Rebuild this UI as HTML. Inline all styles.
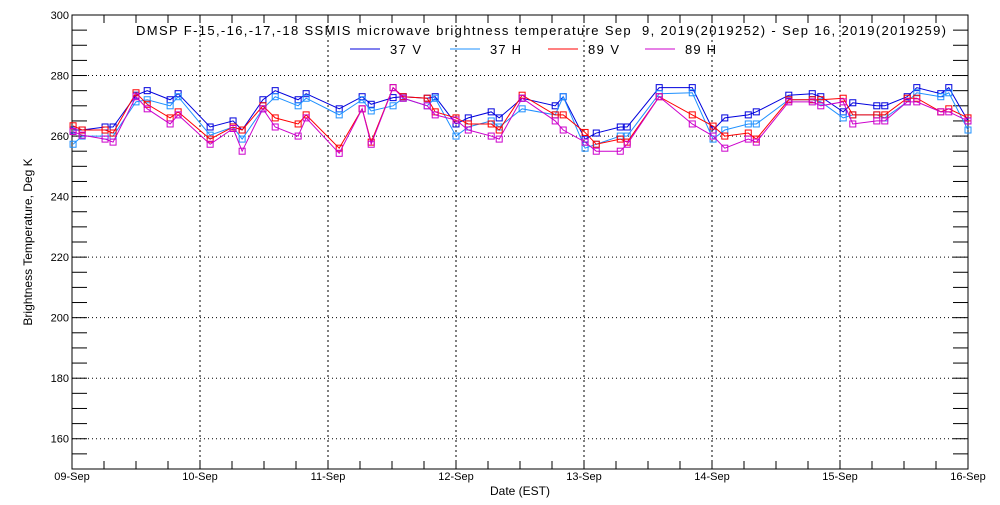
<!DOCTYPE html>
<html><head><meta charset="utf-8"><style>
body{margin:0;background:#fff;}
svg text{font-family:"Liberation Sans",sans-serif;font-size:11px;fill:#000;}
</style></head><body>
<svg id="c" width="1000" height="500"></svg>
<script>
const hours=[0.2,1.9,6.2,7.7,12,14.1,18.4,19.9,25.9,30.2,31.9,35.8,38.1,42.4,43.9,50.1,54.4,56.1,60.2,62.1,66.6,68.1,72,74.3,78.6,80.1,84.4,90.6,92.1,96.2,98.3,102.8,104.1,110.1,116.3,120.2,122.4,126.8,128.3,134.4,138.8,140.4,144.6,146.4,150.9,152.4,156.6,158.4,162.9,164.4,168];
const v37=[262,262,263,263,273.5,275,272,274,263,265,262,272,275,272,274,269,273,270.5,272.7,273,272.5,273,264,266,268,266,272.5,270,273,259,261,263,263,276,276,262,266,267,268,273.5,274,273,268,271,270,270,273,276,274,276,265];
const v89=[263.4,262,262,261,274.3,270.5,266,268,259,263,262,270,266,264,267,256,269,258,276,273,272.5,268,266,264,264,262,273.5,267,267,261.2,257.3,259,258,273,267,263.3,260,261,259,272,272,272,272.5,267,267,267,272.5,272.5,268,269,266];
const h37=[257.3,260,260,260,271.3,272,270,273,260.3,263,259,269,273,270,272.5,267,272,268.3,270,272.5,270,272.5,260,263,265,263,269,267,273,256,257.3,260,260,274,274.3,259,262,264,264,272,272,271.3,266,267,267,266,271.3,274.3,273,274.3,262];
const h89=[261.5,260.3,259,258,273,269,264,267,257.3,262.5,255,269,263,260,266,254.3,269,257.3,276,272.5,270,267,265.3,262,260,259,272.5,265,262,258,255,255,257.3,273,264,260,256,259,258,271.3,271.3,270,271.3,264,265,265,271.3,271.3,268,268,265];
const dayLabels=["09-Sep","10-Sep","11-Sep","12-Sep","13-Sep","14-Sep","15-Sep","16-Sep"];
const yTicks=[160,180,200,220,240,260,280,300];
const L=72,R=968,T=15,B=469,yMin=150,yMax=300;
const X=h=>L+(R-L)*h/168, Y=v=>B-(B-T)*(v-yMin)/(yMax-yMin);
const s=document.getElementById('c');const NS="http://www.w3.org/2000/svg";
function mk(t,a,txt){const e=document.createElementNS(NS,t);for(const k in a)e.setAttribute(k,a[k]);if(txt!=null)e.textContent=txt;s.appendChild(e);return e;}
let e;
yTicks.forEach(v=>{if(v<300){e=mk('line',{x1:L,x2:R,y1:Y(v),y2:Y(v),stroke:'#000','stroke-dasharray':'1,3'});

}
e=mk('text',{x:L-3,y:Y(v)+4,'text-anchor':'end'},v);

});
for(let v=155;v<300;v+=5){mk('line',{x1:L,x2:L+15,y1:Y(v),y2:Y(v),stroke:'#000'});mk('line',{x1:R,x2:R-15,y1:Y(v),y2:Y(v),stroke:'#000'});}
dayLabels.forEach((d,i)=>{const x=X(i*24);
if(i>0&&i<7){e=mk('line',{x1:x,x2:x,y1:T,y2:B,stroke:'#000','stroke-dasharray':'2,3'});

}
e=mk('text',{x:x,y:B+11,'text-anchor':'middle'},d);

});
for(let h=6;h<168;h+=6){const x=X(h);mk('line',{x1:x,x2:x,y1:B,y2:B-8,stroke:'#000'});mk('line',{x1:x,x2:x,y1:T,y2:T+8,stroke:'#000'});}
e=mk('rect',{x:L,y:T,width:R-L,height:B-T,fill:'none',stroke:'#000'});


const series=[[v37,'#0000dd','series-37v'],[h37,'#1e90ff','series-37h'],[v89,'#ff0000','series-89v'],[h89,'#cc00cc','series-89h']];
series.forEach(([vals,col,nm])=>{
e=mk('polyline',{points:vals.map((v,i)=>X(hours[i])+','+Y(v)).join(' '),fill:'none',stroke:col,'stroke-width':1});


vals.forEach((v,i)=>{e=mk('rect',{x:X(hours[i])-3,y:Y(v)-3,width:6,height:6,fill:'none',stroke:col,'stroke-width':1});

});});
e=mk('text',{x:136,y:35,textLength:810,lengthAdjust:'spacing'},'DMSP F-15,-16,-17,-18 SSMIS microwave brightness temperature Sep  9, 2019(2019252) - Sep 16, 2019(2019259)');


e.style.fontSize='13px';e.style.whiteSpace='pre';
[['37 V',350,'#0000dd'],['37 H',450,'#1e90ff'],['89 V',548,'#ff0000'],['89 H',645,'#cc00cc']].forEach(([t,x,col])=>{
e=mk('line',{x1:x,x2:x+30,y1:49,y2:49,stroke:col});


e=mk('text',{x:x+40,y:54,textLength:31,lengthAdjust:'spacing'},t);e.style.fontSize='13px';

});
e=mk('text',{x:520,y:495,'text-anchor':'middle'},'Date (EST)');e.style.fontSize='12px';


e=mk('text',{x:32,y:242,'text-anchor':'middle',transform:'rotate(-90 32 242)'},'Brightness Temperature, Deg K');e.style.fontSize='12px';


</script>
</body></html>
